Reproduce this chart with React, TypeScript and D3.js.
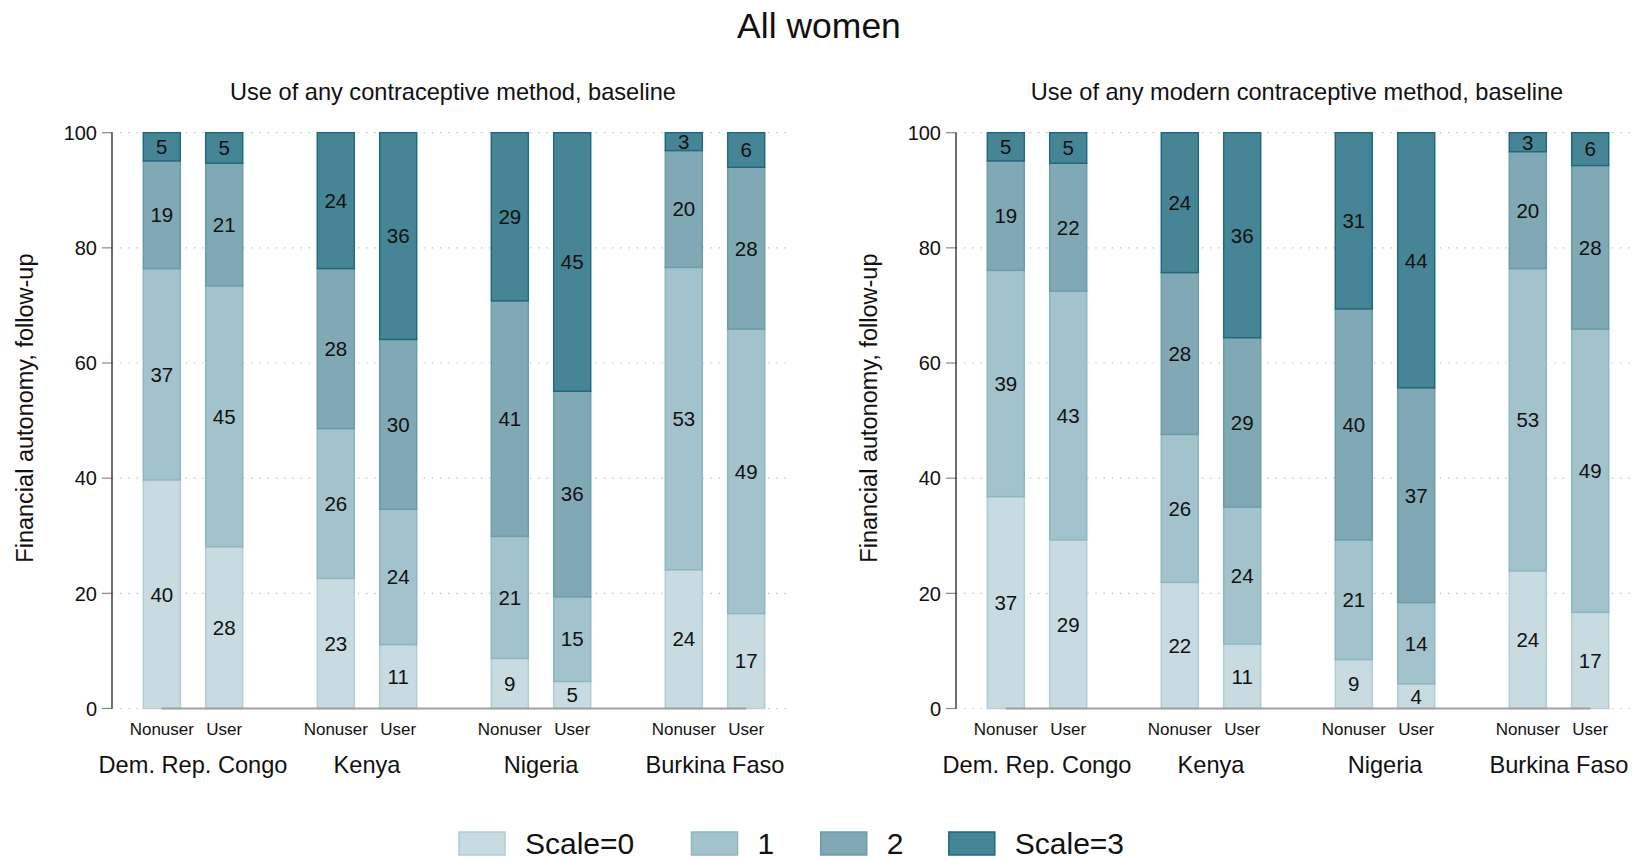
import React from "react";
import * as d3 from "d3";

const countries = ["Dem. Rep. Congo", "Kenya", "Nigeria", "Burkina Faso"];
const groups = ["Nonuser", "User"];
const scaleNames = ["Scale=0", "1", "2", "Scale=3"];
const yTicks = [0, 20, 40, 60, 80, 100];

// values per [country][group] = [scale0, scale1, scale2, scale3]
const anyMethod = [
  [[39.7, 36.7, 18.7, 4.9], [28.1, 45.3, 21.3, 5.3]],
  [[22.6, 26.0, 27.8, 23.6], [11.1, 23.5, 29.5, 35.9]],
  [[8.7, 21.2, 40.9, 29.2], [4.7, 14.7, 35.7, 44.9]],
  [[24.1, 52.5, 20.3, 3.1], [16.5, 49.4, 28.1, 6.0]],
];
const modernMethod = [
  [[36.8, 39.3, 19.0, 4.9], [29.3, 43.2, 22.2, 5.3]],
  [[21.9, 25.7, 28.1, 24.3], [11.2, 23.8, 29.4, 35.6]],
  [[8.5, 20.8, 40.1, 30.6], [4.3, 14.1, 37.3, 44.3]],
  [[23.9, 52.5, 20.3, 3.3], [16.7, 49.2, 28.4, 5.7]],
];

const panelTitles = [
  "Use of any contraceptive method, baseline",
  "Use of any modern contraceptive method, baseline",
];
const panelData = [anyMethod, modernMethod];

const fills = ["#c7dbe1", "#a3c3cc", "#80a9b5", "#468595"];
const strokes = ["#b0cdd5", "#8fb6c0", "#6a9caa", "#1f6a7d"];

const FONT = "'Liberation Sans', Arial, Helvetica, sans-serif";

const y = d3.scaleLinear().domain([0, 100]).range([708.5, 132.7]);

function Panel({ offset, data, title }: { offset: number; data: number[][][]; title: string }) {
  const axisX = 112 + offset;
  const gridEnd = 790 + offset;
  const xg = d3.scaleBand<string>().domain(countries).range([106 + offset, 802 + offset]);
  const xi = d3.scaleBand<string>().domain(groups).range([-62.4, 62.4]);
  const bw = 37;
  const centers: number[] = [];
  countries.forEach((c) => groups.forEach((g) => centers.push(xg(c)! + xg.bandwidth() / 2 + xi(g)! + xi.bandwidth() / 2)));
  return (
    <g>
      <text x={axisX + 341} y={100} textAnchor="middle" fontSize={23.6} fontFamily={FONT} fill="#111">
        {title}
      </text>
      {yTicks.map((t) => (
        <g key={t}>
          <line x1={axisX} x2={gridEnd} y1={y(t)} y2={y(t)} stroke="#b8b8b8" strokeWidth={1.2} strokeDasharray="1.2 7" />
          <line x1={axisX - 10} x2={axisX} y1={y(t)} y2={y(t)} stroke="#888" strokeWidth={1.2} />
          <text x={axisX - 15} y={y(t)} dy="0.36em" textAnchor="end" fontSize={20} fontFamily={FONT} fill="#111">
            {t}
          </text>
        </g>
      ))}
      <line x1={axisX} x2={axisX} y1={y(0)} y2={y(100)} stroke="#222" strokeWidth={1.3} />
      <text
        transform={`translate(${33 + offset},${(y(0) + y(100)) / 2 - 12.5}) rotate(-90)`}
        textAnchor="middle"
        fontSize={23.5}
        fontFamily={FONT}
        fill="#111"
      >
        Financial autonomy, follow-up
      </text>
      {countries.map((c, ci) => {
        const gc = xg(c)! + xg.bandwidth() / 2;
        return (
          <g key={c}>
            {groups.map((g, gi) => {
              const cx = gc + xi(g)! + xi.bandwidth() / 2;
              const vals = data[ci][gi];
              const cum = d3.cumsum(vals);
              return (
                <g key={g}>
                  {vals.map((v, si) => {
                    const y0 = si === 0 ? 0 : cum[si - 1];
                    const y1 = cum[si];
                    return (
                      <rect
                        key={si}
                        x={cx - bw / 2}
                        width={bw}
                        y={y(y1)}
                        height={y(y0) - y(y1)}
                        fill={fills[si]}
                        stroke={strokes[si]}
                        strokeWidth={1.5}
                      />
                    );
                  })}
                  {vals.map((v, si) => {
                    const y0 = si === 0 ? 0 : cum[si - 1];
                    const y1 = cum[si];
                    return (
                      <text
                        key={"t" + si}
                        x={cx}
                        y={y((y0 + y1) / 2)}
                        dy="0.36em"
                        textAnchor="middle"
                        fontSize={20.5}
                        fontFamily={FONT}
                        fill="#111"
                      >
                        {Math.round(v)}
                      </text>
                    );
                  })}
                  <text x={cx} y={735} textAnchor="middle" fontSize={17} fontFamily={FONT} fill="#111">
                    {g}
                  </text>
                </g>
              );
            })}
            <text x={gc} y={773} textAnchor="middle" fontSize={23.6} fontFamily={FONT} fill="#111">
              {c}
            </text>
          </g>
        );
      })}
      <line
        x1={centers[0]}
        x2={centers[centers.length - 1]}
        y1={y(0)}
        y2={y(0)}
        stroke="#a0a0a0"
        strokeWidth={2}
      />
    </g>
  );
}

const legendX = [459, 691.5, 820.7, 948.8];

export default function App() {
  return (
    <svg width={1633} height={861} style={{ position: "absolute", left: 0, top: 0, background: "#fff" }}>
      <rect width={1633} height={861} fill="#fff" />
      <text x={819} y={38} textAnchor="middle" fontSize={35.5} fontFamily={FONT} fill="#111">
        All women
      </text>
      {panelData.map((d, i) => (
        <Panel key={i} offset={i * 844} data={d} title={panelTitles[i]} />
      ))}
      {scaleNames.map((s, i) => (
        <g key={s}>
          <rect x={legendX[i]} y={832} width={46} height={23} fill={fills[i]} stroke={strokes[i]} strokeWidth={1.5} />
          <text x={legendX[i] + 66} y={854} fontSize={30} fontFamily={FONT} fill="#111">
            {s}
          </text>
        </g>
      ))}
    </svg>
  );
}
